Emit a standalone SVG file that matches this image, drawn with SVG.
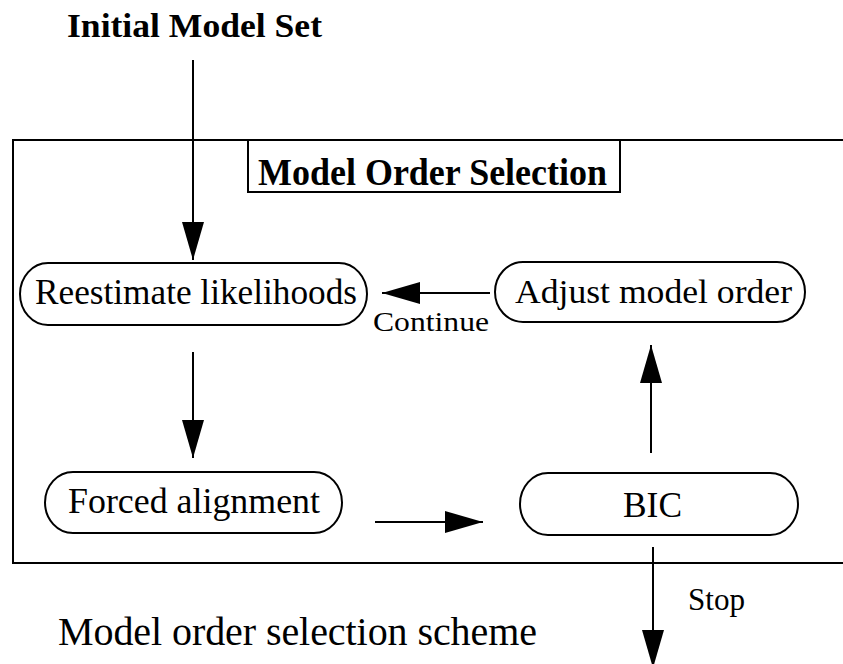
<svg xmlns="http://www.w3.org/2000/svg" width="843" height="664" viewBox="0 0 843 664">
  <style>
    .frame { fill: none; stroke: #000; stroke-width: 2; }
    .pill { fill: #fff; stroke: #000; stroke-width: 2; }
    .edge { fill: none; stroke: #000; stroke-width: 2; }
    .lbl { font-family: "Liberation Serif", "DejaVu Serif", serif; fill: #000; }
    .bold { font-weight: bold; }
  </style>
  <defs>
    <marker id="head" markerUnits="userSpaceOnUse" markerWidth="40" markerHeight="24" refX="38" refY="11" orient="auto">
      <path d="M0,0 L38,11 L0,22 Z" fill="#000"/>
    </marker>
  </defs>

  <rect width="843" height="664" fill="#fff"/>

  <!-- enclosing stage frame (right edge runs off the canvas) -->
  <g id="stage">
    <path class="frame" d="M850,140 H13 V563 H850"/>
    <rect class="frame" x="248" y="140" width="372" height="52"/>
    <text class="lbl bold" x="258" y="185" font-size="37" textLength="349" lengthAdjust="spacingAndGlyphs">Model Order Selection</text>
  </g>

  <g id="initial-set">
    <text class="lbl bold" x="67" y="37" font-size="34" textLength="255" lengthAdjust="spacingAndGlyphs">Initial Model Set</text>
  </g>

  <g id="connectors">
    <path class="edge" d="M193,60 V260" marker-end="url(#head)"/>
    <path class="edge" d="M193,352 V458" marker-end="url(#head)"/>
    <path class="edge" d="M375,522 H483" marker-end="url(#head)"/>
    <path class="edge" d="M651,453 V345" marker-end="url(#head)"/>
    <path class="edge" d="M490,293 H382" marker-end="url(#head)"/>
    <path class="edge" d="M653,547 V668" marker-end="url(#head)"/>
    <text class="lbl" x="373" y="331" font-size="27" textLength="116" lengthAdjust="spacingAndGlyphs">Continue</text>
    <text class="lbl" x="688" y="610" font-size="31" textLength="57" lengthAdjust="spacingAndGlyphs">Stop</text>
  </g>

  <g id="reestimate">
    <rect class="pill" x="20" y="263" width="347" height="62" rx="28" ry="31"/>
    <text class="lbl" x="35" y="304" font-size="35" textLength="322" lengthAdjust="spacingAndGlyphs">Reestimate likelihoods</text>
  </g>

  <g id="adjust">
    <rect class="pill" x="495" y="262" width="310" height="60" rx="28" ry="30"/>
    <text class="lbl" x="515" y="303" font-size="34" textLength="277" lengthAdjust="spacingAndGlyphs">Adjust model order</text>
  </g>

  <g id="forced">
    <rect class="pill" x="45" y="472" width="297" height="61" rx="28" ry="30.5"/>
    <text class="lbl" x="68" y="513" font-size="35" textLength="252" lengthAdjust="spacingAndGlyphs">Forced alignment</text>
  </g>

  <g id="bic">
    <rect class="pill" x="520" y="473" width="278" height="62" rx="28" ry="31"/>
    <text class="lbl" x="623" y="517" font-size="35" textLength="59" lengthAdjust="spacingAndGlyphs">BIC</text>
  </g>

  <g id="caption">
    <text class="lbl" x="58" y="645" font-size="40" textLength="479" lengthAdjust="spacing">Model order selection scheme</text>
  </g>
</svg>
